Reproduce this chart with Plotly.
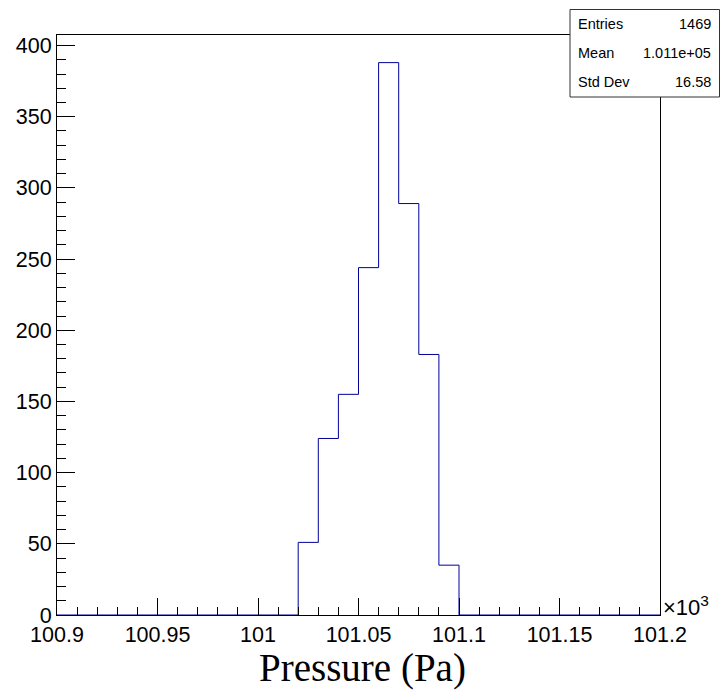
import plotly.graph_objects as go

# ---- data ----
x_min = 100900.0   # Pa
x_max = 101200.0   # Pa
n_bins = 30
counts = [0, 0, 0, 0, 0, 0, 0, 0, 0, 0,
          0, 0, 51, 124, 155, 244, 388, 289, 183, 35,
          0, 0, 0, 0, 0, 0, 0, 0, 0, 0]
x_tick_vals = [100900, 100950, 101000, 101050, 101100, 101150, 101200]
x_tick_text = ["100.9", "100.95", "101", "101.05", "101.1", "101.15", "101.2"]
stats_names = ["Entries", "Mean", "Std Dev"]
stats_values = ["1469", "1.011e+05", "16.58"]
x_title = "Pressure (Pa)"
y_max = 388 * 1.05

bw = (x_max - x_min) / n_bins
edges = [x_min + i * bw for i in range(n_bins + 1)]
ys = counts + [counts[-1]]

W, H = 720, 691
L, R, T, B = 57, 60, 35, 76
pw, ph = W - L - R, H - T - B


def px(x):
    return (x - L) / pw


def py(y):
    return (H - B - y) / ph


fig = go.Figure()
fig.add_trace(go.Scatter(x=edges, y=ys, mode="lines", line_shape="hv",
                         line=dict(color="#000099", width=1), showlegend=False,
                         hoverinfo="skip"))

tickfont = dict(family="Liberation Sans, Arial, Helvetica, sans-serif", size=21.5, color="black")

fig.update_layout(
    width=W, height=H,
    margin=dict(l=L, r=R, t=T, b=B, pad=0, autoexpand=False),
    paper_bgcolor="white", plot_bgcolor="white",
    xaxis=dict(range=[x_min, x_max], tickvals=x_tick_vals, ticktext=x_tick_text,
               ticks="inside", ticklen=17, tickwidth=1, tickcolor="black",
               minor=dict(dtick=10, tick0=x_min, ticks="inside", ticklen=8.5, tickcolor="black", tickwidth=1),
               showline=True, linecolor="black", linewidth=1, mirror=True, automargin=False,
               showgrid=False, zeroline=False, tickfont=tickfont),
    yaxis=dict(range=[0, y_max], tick0=0, dtick=50,
               ticks="inside", ticklen=18, tickwidth=1, tickcolor="black",
               minor=dict(dtick=10, tick0=0, ticks="inside", ticklen=9, tickcolor="black", tickwidth=1),
               showline=True, linecolor="black", linewidth=1, mirror=True, automargin=False,
               showgrid=False, zeroline=False, tickfont=tickfont),
)

# x axis title
fig.add_annotation(xref="paper", yref="paper", x=px(362), y=py(668), xanchor="center", yanchor="middle",
                   text=x_title, showarrow=False,
                   font=dict(family="Liberation Serif, Times New Roman, serif", size=39, color="black"))

# x10^3 exponent label
fig.add_annotation(xref="paper", yref="paper", x=px(661), y=py(622), xanchor="left", yanchor="bottom",
                   text="×10<sup>3</sup>", showarrow=False,
                   font=dict(family="Liberation Sans, Arial, sans-serif", size=22, color="black"))

# stats box
fig.add_shape(type="rect", xref="paper", yref="paper",
              x0=px(570), x1=px(719.5), y0=py(97), y1=py(9.5),
              line=dict(color="#333333", width=1), fillcolor="white", layer="above")
row_y = [24, 53, 82]
for name, val, yy in zip(stats_names, stats_values, row_y):
    fig.add_annotation(xref="paper", yref="paper", x=px(576), y=py(yy), xanchor="left", yanchor="middle",
                       text=name, showarrow=False,
                       font=dict(family="Liberation Sans, Arial, sans-serif", size=14.5, color="black"))
    fig.add_annotation(xref="paper", yref="paper", x=px(713), y=py(yy), xanchor="right", yanchor="middle",
                       text=val, showarrow=False,
                       font=dict(family="Liberation Sans, Arial, sans-serif", size=14.5, color="black"))

fig.write_html("out.html")
